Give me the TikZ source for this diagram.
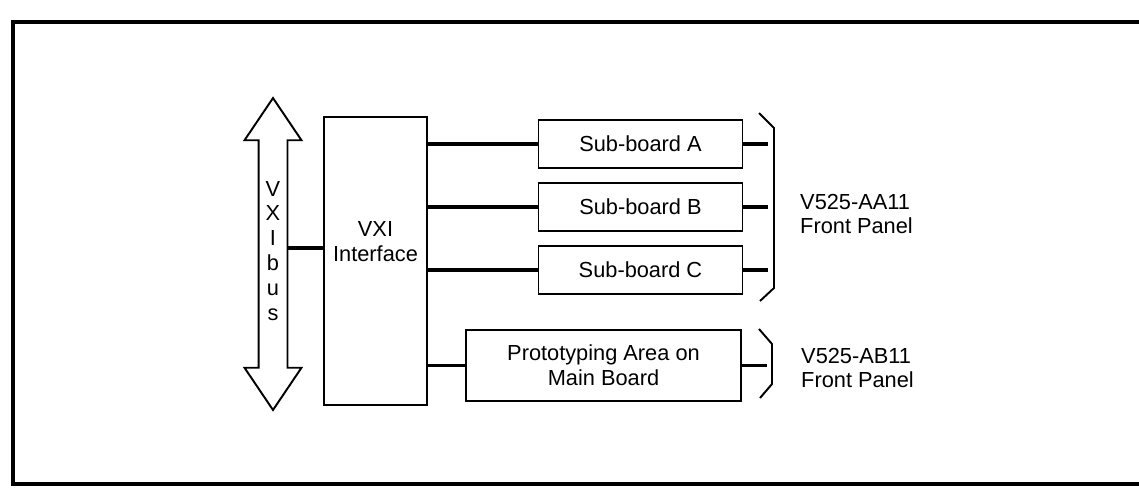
\documentclass[tikz,border=0pt]{standalone}
\usepackage{fontspec}
\setmainfont{Liberation Sans}
\usetikzlibrary{shapes.arrows,calc}

\begin{document}
\begin{tikzpicture}[x=0.02cm,y=-0.02cm,font=\fontsize{12.4}{14.2}\selectfont]
\tikzstyle{bx}=[draw,line width=1.1pt,align=center,inner sep=0pt]
\tikzstyle{wire}=[line width=2pt]
\useasboundingbox (0,0) rectangle (1139,494);
\draw[line width=2.4pt] (1160,22) -- (13,22) -- (13,484) -- (1160,484);
% bus and interface
\node[double arrow,draw,line width=1.1pt,minimum height=6.24cm,inner xsep=0pt,inner ysep=0.27cm,double arrow head extend=0.28cm,double arrow tip angle=68,rotate=90] (bus) at (273,254) {};
\node[align=center] (busname) at (273,251) {V\\X\\I\\b\\u\\s};
\node[bx,minimum width=2.06cm,minimum height=5.76cm] (iface) at (375.5,261) {};
\node[align=center] (ifacename) at (375.5,242) {VXI\\Interface};
\draw[wire] ($(bus.center)+(13.5,-6)$) -- ($(iface.west)+(0,-13)$);
% boards
\node[bx,minimum width=4.08cm,minimum height=0.96cm] (suba) at (640.5,144) {Sub-board A};
\node[bx,minimum width=4.08cm,minimum height=0.96cm] (subb) at (640.5,207) {Sub-board B};
\node[bx,minimum width=4.08cm,minimum height=0.96cm] (subc) at (640.5,270) {Sub-board C};
\node[bx,minimum width=5.5cm,minimum height=1.42cm] (proto) at (603.5,365.5) {Prototyping Area on\\Main Board};
\foreach \s in {suba,subb,subc,proto} \draw[wire] (iface.east |- \s) -- (\s.west);
\foreach \s in {suba,subb,subc,proto} \draw[wire] (\s.east) -- ++(25,0);
% front panels
\draw[line width=1.1pt] (759,113) -- (774,128) -- (774,288) -- (760,301);
\draw[line width=1.1pt] (759,329) -- (772,344) -- (772,384) -- (760,398);
\node[anchor=west,align=left] (aapanel) at (794,214) {V525-AA11\\Front Panel};
\node[anchor=west,align=left] (abpanel) at (795,368) {V525-AB11\\Front Panel};
\end{tikzpicture}
\end{document}
